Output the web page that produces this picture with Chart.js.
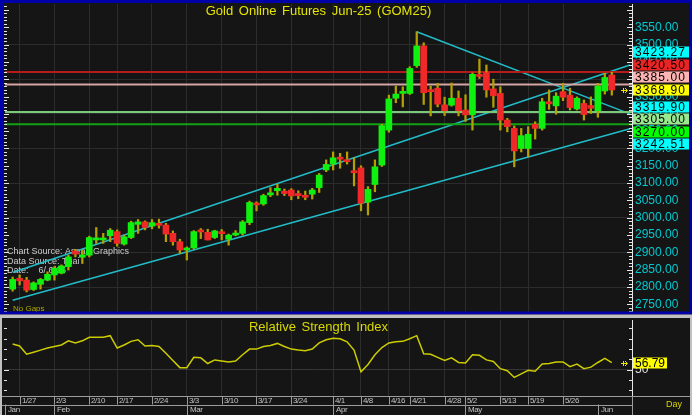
<!DOCTYPE html>
<html>
<head>
<meta charset="utf-8">
<script src="https://cdn.jsdelivr.net/npm/chart.js@4.4.1/dist/chart.umd.min.js"></script>
<style>
  html, body { margin: 0; padding: 0; background: #c0c0c0; }
  #wrap { position: relative; width: 692px; height: 415px; overflow: hidden; }
  #mainBox { position: absolute; left: 0; top: 0; width: 692px; height: 316px; }
  #rsiBox { position: absolute; left: 0; top: 316px; width: 692px; height: 99px; }
  canvas { display: block; }
</style>
</head>
<body>
<div id="wrap">
  <div id="mainBox"><canvas id="mainChart" width="692" height="316"></canvas></div>
  <div id="rsiBox"><canvas id="rsiChart" width="692" height="99"></canvas></div>
</div>
<script>
// trading days shown on the chart
const dates = ['1/24','1/27','1/28','1/29','1/30','1/31',
  '2/3','2/4','2/5','2/6','2/7',
  '2/10','2/11','2/13','2/14',
  '2/17','2/18','2/19','2/20','2/21',
  '2/24','2/25','2/26','2/27','2/28',
  '3/3','3/4','3/5','3/6','3/7',
  '3/10','3/11','3/12','3/13','3/14',
  '3/17','3/18','3/19','3/20','3/21',
  '3/24','3/25','3/26','3/27','3/28','3/31',
  '4/1','4/2','4/3','4/4',
  '4/8','4/9','4/10','4/11',
  '4/16','4/17','4/18',
  '4/21','4/22','4/23','4/24','4/25',
  '4/28','4/29','4/30',
  '5/2',
  '5/6','5/7','5/8','5/9',
  '5/13','5/14','5/15','5/16',
  '5/19','5/20','5/21','5/22','5/23',
  '5/26','5/27','5/28','5/29','5/30',
  '6/2','6/4','6/5'];

const opens = [2794,2825,2820,2793,2808,2820,2835,2840,2859,2904,
  2886,2892,2936,2936,2948,2960,2924,2943,2981,2988,
  2976,2984,2979,2955,2931,2907,2913,2962,2958,2943,
  2959,2938,2950,2955,2986,3042,3040,3066,3078,3077,
  3080,3070,3065,3068,3087,3138,3155,3175,3167,3133,
  3144,3045,3096,3152,3253,3345,3359,3359,3439,3496,
  3368,3374,3326,3325,3345,3311,3297,3412,3419,3372,
  3359,3282,3258,3200,3200,3270,3258,3333,3323,3364,
  3354,3314,3330,3324,3309,3366,3412];
const highs = [2829,2835,2828,2815,2825,2844,2859,2864,2892,2909,
  2907,2947,2972,2955,2969,2965,2950,2990,2995,2991,
  2995,2996,2984,2962,2938,2916,2963,2969,2967,2964,
  2966,2953,2963,2992,3048,3046,3068,3087,3097,3083,
  3084,3078,3077,3085,3128,3167,3190,3186,3190,3173,
  3150,3090,3167,3270,3354,3380,3378,3436,3537,3505,
  3380,3388,3348,3389,3366,3355,3418,3458,3441,3400,
  3378,3287,3265,3258,3263,3277,3345,3369,3361,3388,
  3374,3349,3340,3349,3388,3417,3420];
const lows = [2788,2806,2786,2790,2794,2818,2820,2838,2849,2887,
  2868,2887,2926,2926,2931,2918,2921,2940,2955,2965,
  2968,2970,2931,2921,2897,2878,2910,2940,2936,2940,
  2936,2921,2948,2950,2980,3020,3036,3061,3065,3064,
  3052,3055,3052,3054,3073,3133,3138,3143,3155,3092,
  3020,3008,3075,3148,3247,3332,3320,3356,3434,3327,
  3294,3320,3295,3322,3294,3278,3253,3402,3348,3319,
  3253,3248,3147,3190,3176,3227,3253,3313,3299,3338,
  3311,3311,3282,3301,3290,3357,3354];
const closes = [2822,2818,2791,2812,2822,2837,2854,2861,2887,2895,
  2893,2943,2939,2941,2964,2926,2945,2986,2988,2972,
  2986,2978,2953,2931,2907,2912,2960,2959,2936,2962,
  2954,2950,2955,2988,3044,3037,3064,3072,3085,3070,
  3063,3064,3059,3080,3123,3154,3173,3169,3162,3130,
  3042,3082,3147,3266,3343,3357,3363,3431,3496,3361,
  3364,3328,3309,3345,3309,3297,3414,3408,3369,3352,
  3282,3263,3193,3237,3241,3258,3335,3329,3351,3348,
  3318,3345,3298,3316,3380,3405,3368.90];

const rsiValues = [75,73,65,67,69,71,72.5,74,78,76,
  78,81.5,81.5,81.5,83,71,74,77.5,79,73,
  73.5,72.5,66,59,52,52,62,61.5,56,59.5,
  58.5,57.5,58.5,64.5,70,70,72.5,73.5,75.5,72.5,
  70,69,68.5,70,76,79,80.5,80,77,69,
  48,55,64.5,71.5,76,77,77.5,80,83,65.5,
  65,62,59,61.5,57,56.5,64.5,64,59.5,58,
  51,49,42.5,46,49.5,48.5,55.5,56,57.5,57.5,
  53,55.5,51,52.5,57,61,56.79];

const weekTicks = ['1/27','2/3','2/10','2/17','2/24','3/3','3/10','3/17','3/24',
  '4/1','4/8','4/16','4/21','4/28','5/2','5/13','5/19','5/26'];
const monthNames = ['Jan','Feb','Mar','Apr','May','Jun'];
const monthStarts = ['1/24','2/3','3/3','4/1','5/2','6/2'];

const priceTicks = [2750,2800,2850,2900,2950,3000,3050,3100,3150,3200,3250,3300,3350,3400,3450,3500,3550];
const rsiTicks = [50];

// horizontal levels and the right-hand value tags
const levelValues = [3420.50, 3385.00, 3305.00, 3270.00];
const levelColors = ['#b41c1c', '#d6a6a6', '#7ac87a', '#14a014'];
const tagValues = [3423.27, 3420.50, 3385.00, 3368.90, 3319.90, 3305.00, 3270.00, 3242.51];
const tagColors = ['#00ffff', '#e82424', '#ffb4b4', '#ffff00', '#00ffff', '#98e890', '#00ff00', '#00ffff'];

// trend lines as [candle index, price] end points
const upperChannel = [[0, 2842], [88.6, 3441]];
const lowerChannel = [[0, 2762], [88.6, 3257]];
const downTrend = [[58, 3537], [88.6, 3300]];

const sourceLines = ['Chart Source: Asean Graphics', 'Data Source: Thai', 'Date:    6/ 6/25'];

const FONT = '"Liberation Sans", Arial, sans-serif';
const BG = '#151515';
const GRID = '#2c2c2c';
const X_MIN = -1.1, X_MAX = 88.9;
const lastPrice = closes[closes.length - 1];
const lastRsi = rsiValues[rsiValues.length - 1];
const weekIndex = weekTicks.map(d => dates.indexOf(d));
const monthIndex = monthStarts.map(d => dates.indexOf(d));

function drawArrow(ctx, x, y) {
  ctx.save();
  ctx.strokeStyle = '#e8e800';
  ctx.lineWidth = 1;
  ctx.beginPath();
  ctx.moveTo(x - 4, y + 0.5); ctx.lineTo(x + 2, y + 0.5);
  ctx.moveTo(x - 1.5, y - 2); ctx.lineTo(x - 1.5, y + 3);
  ctx.moveTo(x, y - 2); ctx.lineTo(x + 2.5, y + 0.5); ctx.lineTo(x, y + 3);
  ctx.stroke();
  ctx.restore();
}

function drawMinorTicks(ctx, scale, area, step, major) {
  ctx.save();
  ctx.strokeStyle = '#e6e6e6';
  ctx.lineWidth = 1;
  ctx.beginPath();
  for (let v = Math.ceil(scale.min / step) * step; v <= scale.max; v += step) {
    const py = Math.round(scale.getPixelForValue(v)) + 0.5;
    const len = v % major === 0 ? 5 : 3;
    ctx.moveTo(4, py); ctx.lineTo(4 + len, py);
    ctx.moveTo(area.right - len, py); ctx.lineTo(area.right, py);
  }
  ctx.stroke();
  ctx.restore();
}

const mainDecor = {
  id: 'mainDecor',
  beforeDraw(chart) {
    const ctx = chart.ctx;
    ctx.save();
    ctx.fillStyle = BG;
    ctx.fillRect(0, 0, chart.width, chart.height);
    ctx.restore();
  },
  beforeDatasetsDraw(chart) {
    const ctx = chart.ctx;
    ctx.save();
    ctx.textBaseline = 'middle';
    ctx.font = '9px ' + FONT;
    ctx.fillStyle = '#cccccc';
    sourceLines.forEach((t, i) => ctx.fillText(t, 7, 252 + i * 9.5));
    ctx.font = '8px ' + FONT;
    ctx.fillStyle = '#a8a800';
    ctx.fillText('No Gaps', 13, 309);
    ctx.restore();
  },
  afterDraw(chart) {
    const ctx = chart.ctx;
    const area = chart.chartArea;
    const y = chart.scales.y;
    drawMinorTicks(ctx, y, area, 10, 50);

    ctx.save();
    // title
    ctx.font = '13px ' + FONT;
    ctx.fillStyle = '#e4e400';
    ctx.textAlign = 'center';
    ctx.textBaseline = 'middle';
    if ('wordSpacing' in ctx) ctx.wordSpacing = '2px';
    ctx.fillText('Gold Online Futures Jun-25 (GOM25)', (area.left + area.right) / 2, 11);
    if ('wordSpacing' in ctx) ctx.wordSpacing = '0px';

    // last price marker
    drawArrow(ctx, 625, Math.round(y.getPixelForValue(lastPrice)));

    // value tags, stacked so they do not overlap
    const h = 12.5;
    const items = tagValues.map((v, i) => ({ v, i, py: y.getPixelForValue(v) }))
      .sort((a, b) => a.py - b.py);
    const anchor = items.findIndex(it => Math.abs(it.v - lastPrice) < 0.001);
    const pos = items.map(it => it.py);
    for (let k = anchor - 1; k >= 0; k--) pos[k] = Math.min(items[k].py, pos[k + 1] - h);
    for (let k = anchor + 1; k < items.length; k++) pos[k] = Math.max(items[k].py, pos[k - 1] + h);
    ctx.font = '12px ' + FONT;
    ctx.textAlign = 'left';
    if ('letterSpacing' in ctx) ctx.letterSpacing = '1.1px';
    items.forEach((it, k) => {
      const cy = Math.round(pos[k]);
      ctx.fillStyle = tagColors[it.i];
      ctx.fillRect(633, cy - 5.5, 58, 11);
      ctx.fillStyle = '#000';
      ctx.fillText(it.v.toFixed(2), 635, cy + 0.5);
    });
    if ('letterSpacing' in ctx) ctx.letterSpacing = '0px';

    // panel frame
    ctx.strokeStyle = '#0000a8';
    ctx.lineWidth = 3;
    ctx.strokeRect(1.5, 1.5, 689, 311.5);
    ctx.fillStyle = '#c0c0c0';
    ctx.fillRect(0, 314.5, 692, 2);
    ctx.restore();
  }
};

const rsiDecor = {
  id: 'rsiDecor',
  beforeDraw(chart) {
    const ctx = chart.ctx;
    ctx.save();
    ctx.fillStyle = BG;
    ctx.fillRect(0, 0, chart.width, chart.height);
    ctx.restore();
  },
  afterDraw(chart) {
    const ctx = chart.ctx;
    const area = chart.chartArea;
    const x = chart.scales.x;
    const y = chart.scales.y;
    drawMinorTicks(ctx, y, area, 10, 50);

    ctx.save();
    ctx.font = '13px ' + FONT;
    ctx.fillStyle = '#d8d800';
    ctx.textAlign = 'center';
    ctx.textBaseline = 'middle';
    if ('wordSpacing' in ctx) ctx.wordSpacing = '2px';
    ctx.fillText('Relative Strength Index', (area.left + area.right) / 2, 11);
    if ('wordSpacing' in ctx) ctx.wordSpacing = '0px';

    // last value tag
    const ry = Math.round(y.getPixelForValue(lastRsi));
    drawArrow(ctx, 625, ry);
    ctx.font = '12px ' + FONT;
    ctx.textAlign = 'left';
    const txt = lastRsi.toFixed(2);
    const tw = ctx.measureText(txt).width;
    ctx.fillStyle = '#ffff00';
    ctx.fillRect(633, ry - 5.5, tw + 4, 11);
    ctx.fillStyle = '#000';
    ctx.fillText(txt, 635, ry + 0.5);

    // date rows
    const r1 = area.bottom, r2 = area.bottom + 8.5, r3 = chart.height;
    ctx.strokeStyle = '#9c9c9c';
    ctx.lineWidth = 1;
    ctx.beginPath();
    ctx.moveTo(0, r1 + 0.5); ctx.lineTo(chart.width, r1 + 0.5);
    ctx.moveTo(0, Math.round(r2) + 0.5); ctx.lineTo(area.right, Math.round(r2) + 0.5);
    ctx.moveTo(area.right + 0.5, r1); ctx.lineTo(area.right + 0.5, r3);
    weekIndex.forEach(i => {
      const px = Math.round(x.getPixelForValue(i)) + 0.5;
      ctx.moveTo(px, r1); ctx.lineTo(px, r2);
    });
    monthIndex.forEach((i, k) => {
      const px = k === 0 ? area.left + 0.5 : Math.round(x.getPixelForValue(i)) + 0.5;
      ctx.moveTo(px, r2); ctx.lineTo(px, r3);
    });
    ctx.stroke();

    ctx.font = '8px ' + FONT;
    ctx.fillStyle = '#c4c4c4';
    ctx.textBaseline = 'middle';
    if ('letterSpacing' in ctx) ctx.letterSpacing = '-0.4px';
    weekIndex.forEach((i, k) => {
      ctx.fillText(weekTicks[k], Math.round(x.getPixelForValue(i)) + 2, r1 + 4.5);
    });
    monthIndex.forEach((i, k) => {
      const px = k === 0 ? area.left : Math.round(x.getPixelForValue(i));
      ctx.fillText(monthNames[k], px + 3, r2 + 5);
    });
    if ('letterSpacing' in ctx) ctx.letterSpacing = '0px';
    ctx.font = '9px ' + FONT;
    ctx.fillStyle = '#d4d400';
    ctx.fillText('Day', 666, r1 + 9);

    // panel frame
    ctx.fillStyle = '#c0c0c0';
    ctx.fillRect(0, 0, chart.width, 2);
    ctx.fillRect(0, 0, 2, chart.height);
    ctx.fillRect(chart.width - 2, 0, 2, chart.height);
    ctx.restore();
  }
};

const candleColors = closes.map((c, i) => (c >= opens[i] ? '#10f010' : '#f02828'));

function segment(points) {
  return points.map(p => ({ x: p[0], y: p[1] }));
}

const lineDefaults = { type: 'line', pointRadius: 0, fill: false, tension: 0, order: 3 };

const levelSets = levelValues.map((v, i) => Object.assign({}, lineDefaults, {
  data: [{ x: X_MIN, y: v }, { x: X_MAX, y: v }],
  borderColor: levelColors[i],
  borderWidth: 2
}));

const trendSets = [upperChannel, lowerChannel, downTrend].map(pts => Object.assign({}, lineDefaults, {
  data: segment(pts),
  borderColor: '#22bcc8',
  borderWidth: 1.5
}));

new Chart(document.getElementById('mainChart'), {
  type: 'bar',
  data: {
    datasets: [
      ...levelSets,
      ...trendSets,
      {
        type: 'bar',
        data: dates.map((d, i) => ({ x: i, y: [lows[i], highs[i]] })),
        backgroundColor: '#b4a000',
        barThickness: 1.6,
        grouped: false,
        borderWidth: 0,
        order: 2
      },
      {
        type: 'bar',
        data: dates.map((d, i) => ({ x: i, y: [opens[i], closes[i]] })),
        backgroundColor: candleColors,
        barThickness: 6,
        minBarLength: 2,
        grouped: false,
        borderWidth: 0,
        order: 1
      }
    ]
  },
  options: {
    responsive: false,
    animation: false,
    events: [],
    layout: { autoPadding: false, padding: { left: 5, top: 4, right: 0, bottom: 4 } },
    plugins: { legend: { display: false }, tooltip: { enabled: false } },
    scales: {
      x: {
        type: 'linear', min: X_MIN, max: X_MAX, offset: false,
        afterBuildTicks: s => { s.ticks = weekIndex.map(v => ({ value: v })); },
        ticks: { display: false },
        grid: { color: GRID, drawTicks: false, offset: false },
        border: { display: false },
        afterFit: s => { s.height = 0; }
      },
      y: {
        position: 'right', min: 2728, max: 3617, beginAtZero: false,
        afterBuildTicks: s => { s.ticks = priceTicks.map(v => ({ value: v })); },
        ticks: {
          color: '#00c8d0', font: { family: FONT, size: 12 }, padding: 3,
          callback: v => Number(v).toFixed(2)
        },
        grid: {
          drawTicks: false,
          color: c => (c.tick && c.tick.value % 100 === 0 ? GRID : 'rgba(0,0,0,0)')
        },
        border: { color: '#e6e6e6', width: 1 },
        afterFit: s => { s.width = 60; s.paddingTop = 0; s.paddingBottom = 0; }
      }
    }
  },
  plugins: [mainDecor]
});

new Chart(document.getElementById('rsiChart'), {
  type: 'line',
  data: {
    datasets: [{
      data: rsiValues.map((v, i) => ({ x: i, y: v })),
      borderColor: '#cccc00',
      borderWidth: 1.5,
      pointRadius: 0,
      tension: 0,
      fill: false
    }]
  },
  options: {
    responsive: false,
    animation: false,
    events: [],
    layout: { autoPadding: false, padding: { left: 5, top: 4, right: 0, bottom: 19 } },
    plugins: { legend: { display: false }, tooltip: { enabled: false } },
    scales: {
      x: {
        type: 'linear', min: X_MIN, max: X_MAX, offset: false,
        afterBuildTicks: s => { s.ticks = weekIndex.map(v => ({ value: v })); },
        ticks: { display: false },
        grid: { color: GRID, drawTicks: false },
        border: { display: false },
        afterFit: s => { s.height = 0; }
      },
      y: {
        position: 'right', min: 24.5, max: 98.2,
        afterBuildTicks: s => { s.ticks = rsiTicks.map(v => ({ value: v })); },
        ticks: { color: '#e0e0e0', font: { family: FONT, size: 12 }, padding: 3 },
        grid: { color: '#363636', drawTicks: false },
        border: { color: '#e6e6e6', width: 1 },
        afterFit: s => { s.width = 60; s.paddingTop = 0; s.paddingBottom = 0; }
      }
    }
  },
  plugins: [rsiDecor]
});
</script>
</body>
</html>
